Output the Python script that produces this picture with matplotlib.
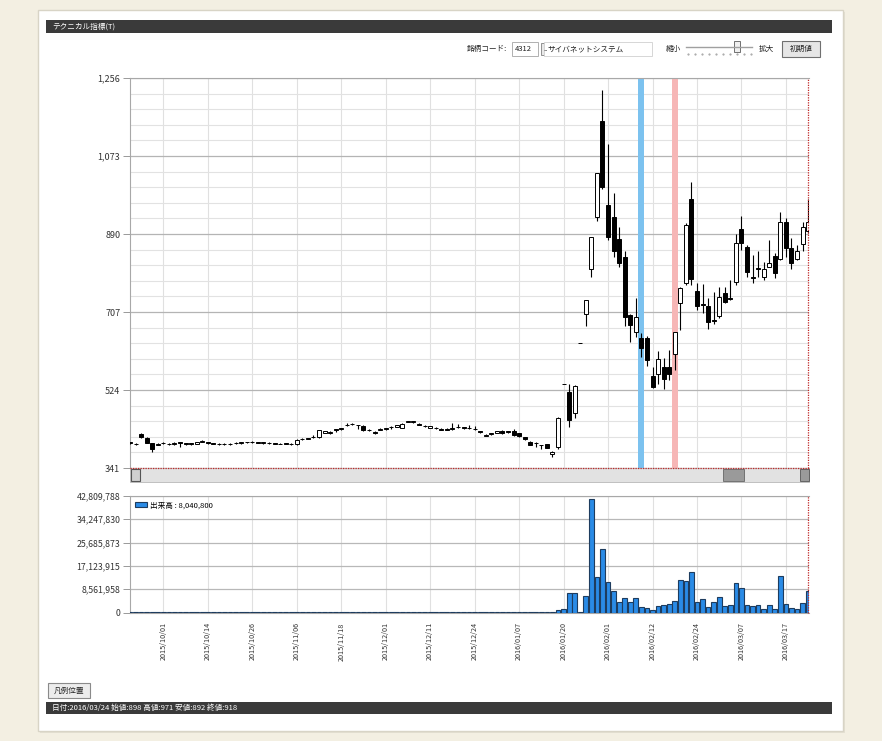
import matplotlib
matplotlib.use('Agg')
import matplotlib.pyplot as plt
from matplotlib.patches import Rectangle

plt.rcParams['font.family'] = ['Noto Sans CJK JP', 'DejaVu Sans']

# daily candles, 2015/09/24 .. 2016/03/24 (4312 サイバネットシステム)
opens = [399, 397, 420, 412, 399, 395, 399, 397, 398, 401,
         399, 399, 398, 403, 401, 399, 398, 397, 398, 399,
         400, 402, 402, 401, 400, 400, 399, 398, 399, 398,
         397, 409, 410, 413, 413, 424, 424, 432, 433, 442,
         444, 442, 440, 431, 426, 430, 432, 438, 438, 436,
         450, 450, 445, 439, 436, 434, 433, 433, 433, 438,
         437, 434, 432, 427, 417, 420, 424, 428, 427, 428,
         422, 413, 403, 400, 395, 397, 374, 391, 538, 519,
         469, 634, 702, 807, 929, 1156, 958, 929, 878, 835,
         700, 661, 647, 647, 558, 562, 577, 577, 609, 727,
         774, 971, 757, 726, 720, 689, 698, 751, 740, 778,
         901, 859, 789, 810, 790, 813, 838, 831, 917, 857,
         831, 867, 898]
highs = [403, 399, 424, 414, 400, 399, 401, 399, 401, 402,
         400, 400, 402, 406, 402, 400, 400, 399, 400, 401,
         402, 403, 404, 402, 402, 401, 400, 400, 400, 399,
         408, 411, 412, 419, 430, 428, 427, 433, 436, 446,
         447, 443, 442, 432, 427, 434, 436, 439, 442, 446,
         452, 452, 446, 441, 440, 437, 434, 434, 446, 444,
         438, 442, 440, 428, 420, 424, 428, 429, 428, 432,
         423, 414, 405, 401, 396, 398, 380, 460, 538, 538,
         535, 634, 734, 884, 1034, 1229, 1101, 987, 907, 849,
         702, 741, 657, 650, 579, 616, 598, 618, 661, 766,
         915, 1013, 774, 772, 739, 755, 765, 766, 782, 889,
         933, 864, 841, 849, 825, 876, 845, 942, 927, 881,
         864, 919, 971]
lows = [397, 395, 412, 399, 379, 394, 397, 395, 396, 391,
        396, 396, 397, 401, 398, 397, 396, 394, 396, 397,
        398, 400, 400, 399, 398, 398, 397, 397, 397, 396,
        396, 407, 409, 411, 412, 422, 420, 426, 431, 439,
        442, 432, 428, 428, 420, 429, 431, 432, 437, 435,
        448, 447, 442, 437, 435, 432, 429, 429, 431, 436,
        433, 432, 430, 424, 415, 419, 423, 421, 424, 416,
        414, 406, 394, 391, 385, 388, 366, 385, 538, 438,
        459, 634, 673, 788, 921, 995, 876, 837, 813, 673,
        637, 649, 602, 580, 528, 538, 526, 548, 571, 665,
        770, 770, 712, 704, 666, 680, 692, 729, 735, 770,
        852, 790, 774, 790, 782, 812, 786, 829, 837, 808,
        829, 851, 892]
closes = [402, 397, 413, 400, 385, 398, 399, 397, 399, 400,
          397, 397, 401, 403, 399, 398, 398, 397, 398, 400,
          401, 402, 401, 400, 401, 400, 398, 398, 398, 397,
          407, 409, 411, 413, 429, 427, 426, 431, 434, 442,
          444, 441, 429, 430, 422, 433, 435, 437, 441, 444,
          450, 450, 443, 439, 439, 434, 430, 431, 435, 438,
          434, 434, 432, 425, 419, 423, 427, 422, 425, 418,
          416, 408, 395, 399, 394, 389, 379, 459, 538, 454,
          534, 634, 734, 884, 1034, 1001, 884, 849, 823, 696,
          677, 696, 622, 594, 530, 596, 549, 562, 659, 763,
          911, 784, 720, 724, 684, 687, 743, 731, 738, 870,
          870, 802, 787, 808, 807, 821, 799, 917, 856, 821,
          849, 907, 918]
# volume in thousand shares
volumes_k = [210, 150, 280, 250, 290, 190, 120, 110, 130, 160,
             140, 120, 150, 180, 130, 110, 100, 120, 110, 130,
             140, 120, 110, 100, 120, 110, 100, 90, 110, 120,
             220, 180, 170, 200, 260, 220, 190, 210, 180, 240,
             200, 190, 230, 170, 200, 160, 150, 170, 160, 220,
             230, 180, 150, 130, 140, 120, 150, 140, 180, 160,
             140, 130, 120, 150, 170, 140, 130, 150, 130, 190,
             170, 210, 240, 200, 180, 230, 280, 1000, 1200, 7300,
             7000, 100, 6200, 41600, 13100, 23400, 11100, 7900, 3900, 5400,
             3800, 5500, 2000, 1700, 1100, 2400, 2700, 3300, 4200, 12000,
             11500, 14700, 3700, 5000, 2000, 3800, 5700, 2400, 2900, 10900,
             9100, 2900, 2400, 2900, 1200, 2700, 1300, 13300, 3200, 1700,
             1200, 3400, 8040.8]

date_ticks = [6, 14, 22, 30, 38, 46, 54, 62, 70, 78, 86, 94, 102, 110, 118]
date_labels = ['2015/10/01', '2015/10/14', '2015/10/26', '2015/11/06', '2015/11/18',
               '2015/12/01', '2015/12/11', '2015/12/24', '2016/01/07', '2016/01/20',
               '2016/02/01', '2016/02/12', '2016/02/24', '2016/03/07', '2016/03/17']
price_ticks = [341, 524, 707, 890, 1073, 1256]
vol_ticks = [0, 8561958, 17123915, 25685873, 34247830, 42809788]
blue_day = 92
pink_day = 98

W, H = 882, 741
fig = plt.figure(figsize=(W / 100, H / 100), dpi=100, facecolor='#f3efe2')

def fx(x):
    return x / W

def fy(y):
    return 1 - y / H

# background / window chrome drawn in pixel coordinates
bg = fig.add_axes([0, 0, 1, 1], zorder=-1)
bg.set_xlim(0, W)
bg.set_ylim(H, 0)
bg.axis('off')

def rect(x0, y0, x1, y1, **kw):
    bg.add_patch(Rectangle((x0, y0), x1 - x0, y1 - y0, **kw))

rect(40, 12, 845, 733, fc='#e4e0d2', ec='none')
rect(38, 10, 843, 731, fc='white', ec='#d8d4c6', lw=1)
rect(46, 20, 832, 33, fc='#3a3a3a', ec='none')
bg.text(52, 27, 'テクニカル指標(T)', color='white', fontsize=5.5, va='center')

ui = dict(fontsize=5.5, va='center', color='#222222')
bg.text(467, 49, '銘柄コード:', **ui)
rect(512, 42, 538, 56, fc='white', ec='#b0b0b0', lw=0.7)
bg.text(515, 49, '4312', **ui)
rect(541, 43, 551, 55, fc='#e8e8e8', ec='#909090', lw=0.7)
bg.text(546, 49, '..', ha='center', **ui)
rect(544, 42, 652, 56, fc='white', ec='#d0d0d0', lw=0.6)
bg.text(547, 49, 'サイバネットシステム', **ui)
bg.text(666, 49, '縮小', **ui)
bg.plot([686, 752], [47, 47], color='#a0a0a0', lw=1)
bg.plot(range(688, 752, 7), [54] * len(range(688, 752, 7)), ls='none', marker='.', ms=1, color='#999999')
rect(734, 41, 740, 52, fc='#f0f0f0', ec='#707070', lw=0.7)
bg.text(759, 49, '拡大', **ui)
rect(782, 41, 820, 57, fc='#e6e6e6', ec='#707070', lw=0.8)
bg.text(801, 49, '初期値', ha='center', **ui)

# scrollbar below the price panel
rect(130, 468, 809, 482, fc='#e2e2e2', ec='#b8b8b8', lw=0.6)
rect(131, 469, 140, 481, fc='#d0d0d0', ec='#555555', lw=0.8)
rect(723, 469, 744, 481, fc='#9a9a9a', ec='#666666', lw=0.6)
rect(800, 469, 809, 481, fc='#9a9a9a', ec='#555555', lw=0.6)

rect(48, 683, 90, 698, fc='#ececec', ec='#8a8a8a', lw=0.8)
bg.text(69, 690.5, '凡例位置', ha='center', **ui)
rect(46, 702, 832, 714, fc='#3a3a3a', ec='none')
last = len(closes) - 1
bg.text(52, 708, f'日付:2016/03/24 始値:{opens[last]} 高値:{highs[last]} 安値:{lows[last]} 終値:{closes[last]}',
        color='white', fontsize=5.5, va='center')

xs = list(range(len(closes)))
xlim = (0, 122.15)

# price panel
ax = fig.add_axes([fx(130), fy(468), fx(809) - fx(130), fy(78) - fy(468)])
ax.set_xlim(*xlim)
ax.set_ylim(price_ticks[0], price_ticks[-1])
ax.axvspan(blue_day - 0.55, blue_day + 0.55, color='#7cc2ef', lw=0, zorder=1)
ax.axvspan(pink_day - 0.55, pink_day + 0.55, color='#f6b6b6', lw=0, zorder=1)

ax.vlines(xs, lows, highs, color='black', lw=0.8, zorder=3)
bottoms = [min(o, c) for o, c in zip(opens, closes)]
heights = [max(abs(c - o), 0.3) for o, c in zip(opens, closes)]
colors = ['white' if c >= o else 'black' for o, c in zip(opens, closes)]
ax.bar(xs, heights, bottom=bottoms, width=0.72, color=colors, edgecolor='black', linewidth=0.7, zorder=4)

minor = [price_ticks[0] + k * 36.6 for k in range(26)]
ax.set_yticks(minor, minor=True)
ax.set_yticks(price_ticks)
ax.set_yticklabels([f'{v:,}' for v in price_ticks])
ax.set_xticks(date_ticks)
ax.set_xticklabels([])
ax.grid(which='major', axis='y', color='#b4b4b4', lw=0.9)
ax.grid(which='minor', axis='y', color='#e2e2e2', lw=0.8)
ax.grid(which='major', axis='x', color='#e0e0e0', lw=0.8)
ax.set_axisbelow(True)
ax.tick_params(axis='y', which='major', length=5, width=0.7, color='#999999', labelsize=6.5,
               labelcolor='#333333', pad=2)
ax.tick_params(axis='y', which='minor', length=0)
ax.tick_params(axis='x', length=0)
for s in ['top', 'left']:
    ax.spines[s].set_color('#a8a8a8')
    ax.spines[s].set_linewidth(0.8)
ax.spines['right'].set_visible(False)
ax.spines['bottom'].set_visible(False)
ax.axvline(last, color='#c02828', ls=(0, (1, 1)), lw=0.9, zorder=5, clip_on=False)
ax.axhline(price_ticks[0], color='#c02828', ls=(0, (1, 1)), lw=0.9, zorder=5, clip_on=False)

# volume panel
volumes = [v * 1000 for v in volumes_k]
ax2 = fig.add_axes([fx(130), fy(612.5), fx(809) - fx(130), fy(496) - fy(612.5)])
ax2.set_xlim(*xlim)
ax2.set_ylim(0, vol_ticks[-1])
ax2.bar(xs, volumes, width=0.85, color='#2a8be6', edgecolor='#1e3c5e', linewidth=0.8, zorder=3,
        label=f'出来高 : {int(volumes[-1]):,}')
ax2.set_yticks(vol_ticks)
ax2.set_yticklabels([f'{v:,}' for v in vol_ticks])
ax2.set_xticks(date_ticks)
ax2.set_xticklabels(date_labels, rotation=90, fontsize=5.2, color='#333333')
ax2.grid(axis='y', color='#b8b8b8', lw=0.9)
ax2.grid(axis='x', color='#e0e0e0', lw=0.8)
ax2.set_axisbelow(True)
ax2.tick_params(axis='y', length=5, width=0.7, color='#999999', labelsize=6.3, labelcolor='#333333', pad=2)
ax2.tick_params(axis='x', length=0, pad=7)
for s in ['top', 'left', 'bottom']:
    ax2.spines[s].set_color('#a8a8a8')
    ax2.spines[s].set_linewidth(0.8)
ax2.spines['right'].set_visible(False)
ax2.axvline(last, color='#c02828', ls=(0, (1, 1)), lw=0.9, zorder=5, clip_on=False)
leg = ax2.legend(loc='upper left', frameon=False, fontsize=5.5, handlelength=1.5, handleheight=0.6,
                 handletextpad=0.4, borderaxespad=0.3)

fig.savefig('out.png', dpi=100, facecolor=fig.get_facecolor())
